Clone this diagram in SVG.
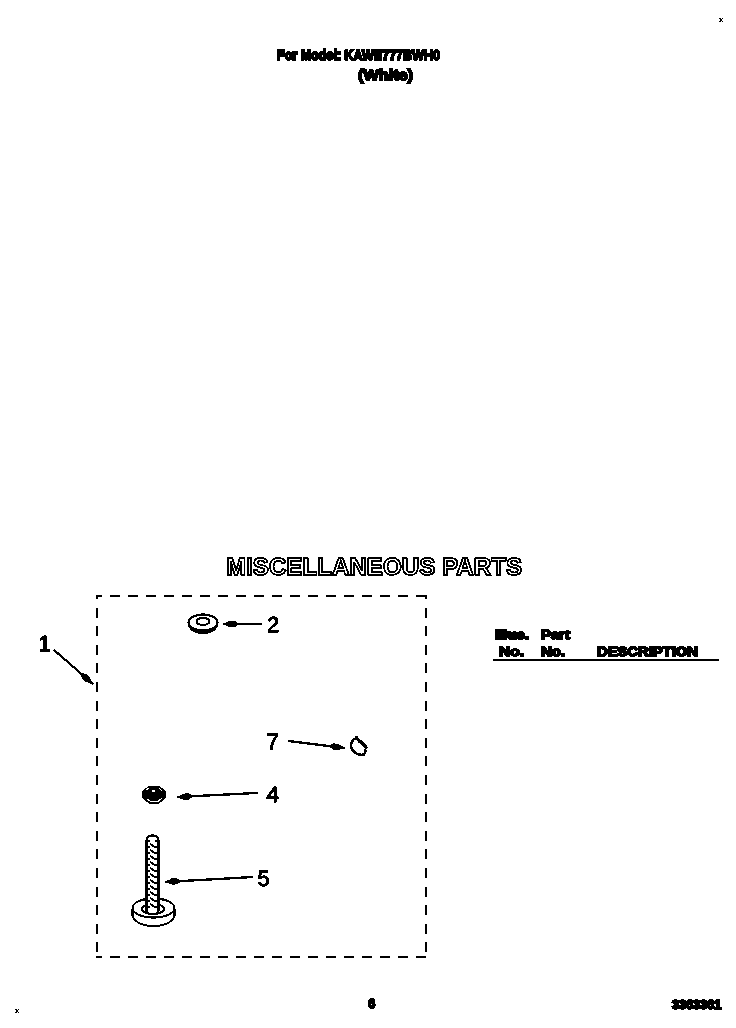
<svg xmlns="http://www.w3.org/2000/svg" width="736" height="1028" viewBox="0 0 736 1028">
<style>
text{font-family:"Liberation Sans",Arial,sans-serif;fill:#000}
.b{font-weight:bold;stroke:#000;stroke-width:1.600}
.h{font-size:14.500px}
.t{font-size:13.500px}
.n{font-size:22px;font-weight:normal;stroke:#000;stroke-width:.8}
.ln{fill:none;stroke:#000;stroke-width:2}
.p{fill:none;stroke:#000;stroke-width:1.800}
.d{fill:none;stroke:#000;stroke-width:2;shape-rendering:crispEdges}
</style>
<defs>
<filter id="bw" filterUnits="userSpaceOnUse" x="0" y="0" width="736" height="1028" color-interpolation-filters="sRGB">
<feColorMatrix type="matrix" values=".33 .34 .33 0 0 .33 .34 .33 0 0 .33 .34 .33 0 0 0 0 0 1 0"/>
<feComponentTransfer><feFuncR type="discrete" tableValues="0 0 1"/><feFuncG type="discrete" tableValues="0 0 1"/><feFuncB type="discrete" tableValues="0 0 1"/></feComponentTransfer>
</filter>
<marker id="ah" markerUnits="userSpaceOnUse" markerWidth="18" markerHeight="10" refX="16" refY="5" orient="auto"><path d="M0 5L4 2L9 2L16 5L9 8L4 8Z" fill="#000"/></marker>
</defs>
<rect width="736" height="1028" fill="#fff"/>
<g id="page" filter="url(#bw)">
<rect width="736" height="1028" fill="#fff"/>
<g id="header">
<text class="b h" x="277" y="60" textLength="163" lengthAdjust="spacingAndGlyphs">For Model: KAWE777BWH0</text>
<text class="b h" x="358" y="80" textLength="55" lengthAdjust="spacingAndGlyphs">(White)</text>
</g>
<g id="title"><text x="226" y="574.500" font-size="23.500" font-weight="bold" style="fill:#fff;stroke:#000;stroke-width:1.500" textLength="296" lengthAdjust="spacingAndGlyphs">MISCELLANEOUS PARTS</text></g>
<g id="table-head">
<text class="b t" x="495" y="639" textLength="34" lengthAdjust="spacingAndGlyphs">Illus.</text>
<text class="b t" x="541" y="639" textLength="29" lengthAdjust="spacingAndGlyphs">Part</text>
<text class="b t" x="499" y="656" textLength="25" lengthAdjust="spacingAndGlyphs">No.</text>
<text class="b t" x="541" y="656" textLength="24" lengthAdjust="spacingAndGlyphs">No.</text>
<text class="b t" x="597" y="656" textLength="101" lengthAdjust="spacingAndGlyphs">DESCRIPTION</text>
<path d="M493 660H719" stroke="#000" stroke-width="2" fill="none" shape-rendering="crispEdges"/>
</g>
<g id="kit-box">
<path class="d" stroke-dasharray="10 8" stroke-dashoffset="4" d="M96 596H427"/>
<path class="d" stroke-dasharray="10 8" stroke-dashoffset="4" d="M96 957H427"/>
<path class="d" stroke-dasharray="10 8.600" stroke-dashoffset="6" d="M97 595V958"/>
<path class="d" stroke-dasharray="10 8.600" stroke-dashoffset="6" d="M426 595V958"/>
</g>
<g id="connectors">
<path class="ln" d="M54 650L93 684" marker-end="url(#ah)"/>
<path class="ln" d="M262 624H223" marker-end="url(#ah)"/>
<path class="ln" d="M288 741L345 748" marker-end="url(#ah)"/>
<path class="ln" d="M258 793L177 797" marker-end="url(#ah)"/>
<path class="ln" d="M253 877L165 882" marker-end="url(#ah)"/>
</g>
<g id="part-1"><text class="n" x="38.500" y="651">1</text></g>
<g id="part-2">
<ellipse class="p" cx="203" cy="622.500" rx="14.500" ry="8"/>
<path class="p" d="M188.500 624C190 630 196 633 203 633C210 633 216 630 217.500 624"/>
<ellipse class="p" cx="203" cy="621.500" rx="6.500" ry="3.500"/>
<text class="n" x="267" y="632">2</text>
</g>
<g id="part-7">
<path d="M353 740C351 743 350 746 352 749C354 753 358 755 362 755C365 755 366 752 365 749" fill="none" stroke="#000" stroke-width="2.400"/>
<path d="M353 740C355 738 358 738 360 741L366 748M356 736L360 743M361 741L367 748" fill="none" stroke="#000" stroke-width="2.400"/>
<text class="n" x="266.500" y="749">7</text>
</g>
<g id="part-4">
<path d="M143 791L148 787H160L165 791V798L159 803H149L143 798Z" fill="#000" stroke="#000"/>
<path d="M147 799L151 801.500H158L162 798M146 790L149 788M159 788L162 791M152 791H155" stroke="#fff" stroke-width="1.400" fill="none"/>
<text class="n" x="266.500" y="802">4</text>
</g>
<g id="part-5">
<ellipse class="p" cx="153.500" cy="908" rx="21" ry="9.500"/>
<path class="p" d="M132.500 909V916C135 923 144 926 153.500 926C163 926 172 923 174.500 916V909"/>
<ellipse class="p" cx="153" cy="909" rx="11" ry="5"/>
<path d="M146.500 840C146.500 834 158.500 834 158.500 840V911C158.500 915 146.500 915 146.500 911Z" fill="#fff" stroke="#000" stroke-width="1.800"/>
<path d="M146.500 841H150M155 841H158.500M146.500 847H150M155 847H158.500M146.500 853H150M155 853H158.500M146.500 859H150M155 859H158.500M146.500 865H150M155 865H158.500M146.500 871H150M155 871H158.500M146.500 877H150M155 877H158.500M146.500 883H150M155 883H158.500M146.500 889H150M155 889H158.500M146.500 895H150M155 895H158.500M146.500 901H150M155 901H158.500M146.500 907H150M155 907H158.500M150 844L155 847M150 850L155 853M150 856L155 859M150 862L155 865M150 868L155 871M150 874L155 877M150 880L155 883M150 886L155 889M150 892L155 895M150 898L155 901M150 904L155 907" fill="none" stroke="#000" stroke-width="1.800"/>
<text class="n" x="257.500" y="886">5</text>
</g>
<g id="footer">
<text class="b" x="368" y="1008" font-size="13">6</text>
<text class="b" x="672" y="1009" font-size="12.500" textLength="49" lengthAdjust="spacingAndGlyphs">3363361</text>
</g>
<g id="marks">
<text x="719" y="22" font-size="8" font-weight="bold">x</text>
<text x="15" y="1013" font-size="8" font-weight="bold">x</text>
</g>
</g>
</svg>
